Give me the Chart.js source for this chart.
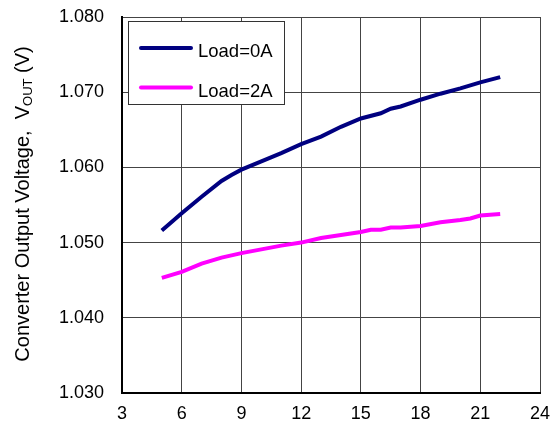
<!DOCTYPE html>
<html>
<head>
<meta charset="utf-8">
<script src="https://cdn.jsdelivr.net/npm/chart.js@4.4.0/dist/chart.umd.min.js"></script>
<style>
  html, body { margin: 0; padding: 0; background: #fff; }
  #wrap { width: 554px; height: 427px; }
</style>
</head>
<body>
<div id="wrap"><canvas id="vout" width="554" height="427"></canvas></div>
<script>
// input voltage (V) and measured output voltage (V)
const vinLoad0 = [5, 6, 7, 8, 8.5, 9, 10, 11, 12, 13, 14, 15, 16, 16.5, 17, 18, 19, 20, 21, 22];
const voutLoad0 = [1.0516, 1.0539, 1.0561, 1.0582, 1.0590, 1.0597, 1.0608, 1.0619, 1.0631, 1.0641,
                   1.0654, 1.0665, 1.0672, 1.0678, 1.0681, 1.0690, 1.0698, 1.0705, 1.0713, 1.0720];
const vinLoad2 = [5, 6, 7, 8, 9, 10, 11, 12, 13, 14, 15, 15.5, 16, 16.5, 17, 18, 19, 20, 20.5, 21, 22];
const voutLoad2 = [1.0453, 1.0461, 1.0472, 1.0480, 1.0486, 1.0491, 1.0496, 1.0500, 1.0506, 1.0510,
                   1.0514, 1.0517, 1.0517, 1.0520, 1.0520, 1.0522, 1.0527, 1.0530, 1.0532, 1.0536, 1.0538];
const seriesLabels = ['Load=0A', 'Load=2A'];
const xTicks = [3, 6, 9, 12, 15, 18, 21, 24];
const yTicks = [1.030, 1.040, 1.050, 1.060, 1.070, 1.080];

const FONT = 'Arial, "Liberation Sans", sans-serif';

const toPoints = (xs, ys) => xs.map((x, i) => ({ x: x, y: ys[i] }));

// boxed legend in the top left of the plot, and the y title with its subscript
const overlay = {
    id: 'overlay',
    afterDraw(chart) {
        const ctx = chart.ctx;
        const area = chart.chartArea;
        ctx.save();

        const bx = area.left + 6, by = area.top + 4, bw = 156, bh = 83;
        ctx.fillStyle = '#fff';
        ctx.fillRect(bx, by, bw, bh);
        ctx.strokeStyle = '#333';
        ctx.lineWidth = 1;
        ctx.strokeRect(bx + 0.5, by + 0.5, bw, bh);

        ctx.font = '18.5px ' + FONT;
        ctx.textBaseline = 'middle';
        chart.data.datasets.forEach((ds, i) => {
            const ly = by + 27 + i * 39.5;
            ctx.strokeStyle = ds.borderColor;
            ctx.lineWidth = 4;
            ctx.lineCap = 'round';
            ctx.beginPath();
            ctx.moveTo(bx + 13, ly);
            ctx.lineTo(bx + 63, ly);
            ctx.stroke();
            ctx.fillStyle = '#000';
            ctx.fillText(ds.label, bx + 70, ly + 4);
        });

        // rotated y axis title
        const parts = [
            { t: 'Converter Output Voltage,  V', f: '20px ' + FONT, dy: 0 },
            { t: 'OUT', f: '13px ' + FONT, dy: 3 },
            { t: ' (V)', f: '20px ' + FONT, dy: 0 },
        ];
        let total = 0;
        parts.forEach(p => { ctx.font = p.f; p.w = ctx.measureText(p.t).width; total += p.w; });
        ctx.translate(29, 204);
        ctx.rotate(-Math.PI / 2);
        ctx.fillStyle = '#000';
        ctx.textBaseline = 'alphabetic';
        ctx.textAlign = 'left';
        let cx = -total / 2;
        parts.forEach(p => {
            ctx.font = p.f;
            ctx.fillText(p.t, cx, p.dy);
            cx += p.w;
        });
        ctx.restore();
    }
};

new Chart(document.getElementById('vout'), {
    type: 'line',
    data: {
        datasets: [
            {
                label: seriesLabels[0],
                data: toPoints(vinLoad0, voutLoad0),
                borderColor: '#000080',
                borderWidth: 4,
                pointRadius: 0,
                tension: 0,
            },
            {
                label: seriesLabels[1],
                data: toPoints(vinLoad2, voutLoad2),
                borderColor: '#ff00ff',
                borderWidth: 4,
                pointRadius: 0,
                tension: 0,
            },
        ],
    },
    options: {
        responsive: false,
        animation: false,
        layout: { padding: { top: 17, right: 14, left: 0, bottom: 0 } },
        plugins: {
            legend: { display: false },
            tooltip: { enabled: false },
        },
        scales: {
            x: {
                type: 'linear',
                min: xTicks[0],
                max: xTicks[xTicks.length - 1],
                afterBuildTicks: (axis) => { axis.ticks = xTicks.map(v => ({ value: v })); },
                afterFit: (axis) => {
                    axis.height = 34;
                    axis.paddingLeft = 0;
                    axis.paddingRight = 0;
                },
                grid: { color: '#444', lineWidth: 1, drawTicks: false },
                border: { color: '#000', width: 2 },
                ticks: { color: '#000', font: { family: FONT, size: 18 }, padding: 10, maxRotation: 0 },
            },
            y: {
                min: yTicks[0],
                max: yTicks[yTicks.length - 1],
                afterBuildTicks: (axis) => { axis.ticks = yTicks.map(v => ({ value: v })); },
                afterFit: (axis) => {
                    axis.width = 122;
                    axis.paddingTop = 0;
                    axis.paddingBottom = 0;
                },
                grid: { color: '#444', lineWidth: 1, drawTicks: false },
                border: { color: '#000', width: 2 },
                ticks: {
                    color: '#000',
                    font: { family: FONT, size: 18 },
                    padding: 18,
                    callback: (v) => v.toFixed(3),
                },
            },
        },
    },
    plugins: [overlay],
});
</script>
</body>
</html>
